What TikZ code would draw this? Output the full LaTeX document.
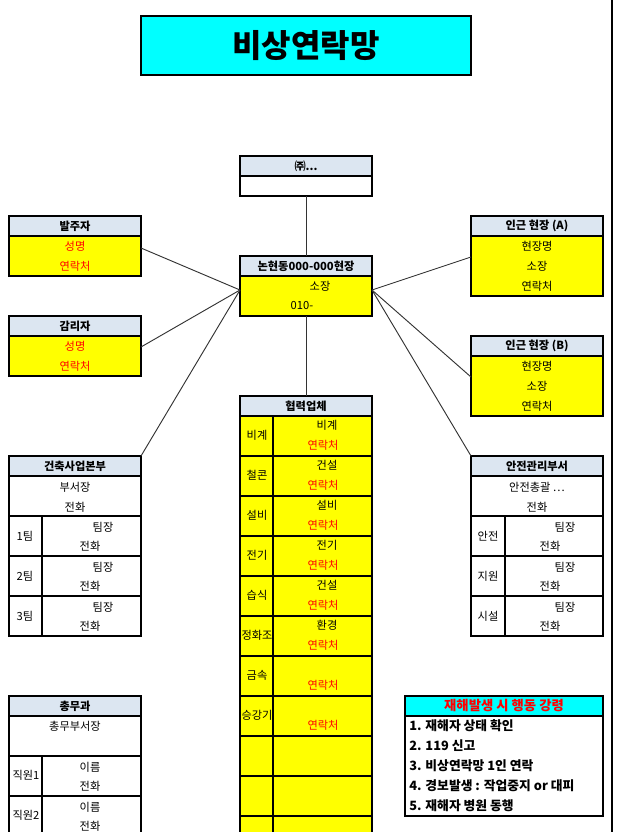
\documentclass[tikz,border=0pt]{standalone}
\usepackage{fontspec}
\setmainfont{Noto Sans CJK KR}
\definecolor{hdr}{HTML}{DCE6F1}
\definecolor{ylw}{HTML}{FFFF00}
\definecolor{cyn}{HTML}{00FFFF}
\definecolor{rd}{HTML}{FF0000}
\begin{document}
\begin{tikzpicture}[x=0.75pt,y=-0.75pt,
  frame/.style={draw=black,line width=1.5pt},
  gridline/.style={draw=black,line width=1.5pt},
  conn/.style={draw=black!80,line width=0.7pt},
  t/.style={inner sep=0pt,font=\fontsize{8.4}{9}\selectfont},
  tb/.style={inner sep=0pt,font=\fontsize{8.4}{9}\selectfont\bfseries},
  rt/.style={t,text=rd},
  it/.style={inner sep=0pt,anchor=west,font=\fontsize{9.6}{10}\selectfont\bfseries}]
\useasboundingbox (0,0) rectangle (624,832);
\clip (0,0) rectangle (624,832);

% title
\draw[frame,fill=cyn] (141,16) rectangle (471,75);
\node[inner sep=0pt,font=\fontsize{24}{26}\selectfont\bfseries] (title) at (306,46) {비상연락망};

% right border line
\draw[line width=1.5pt] (612,0) -- (612,832);

% top company box
\fill[hdr] (240,156) rectangle (372,176);
\draw[gridline] (240,176) -- (372,176);
\draw[frame] (240,156) rectangle (372,196);
\node[tb] (comp) at (306,166) {㈜...};
\coordinate (compB) at (306,196);

% main site box
\fill[hdr] (240,256) rectangle (372,276);
\fill[ylw] (240,276) rectangle (372,316);
\draw[gridline] (240,276) -- (372,276);
\draw[frame] (240,256) rectangle (372,316);
\node[tb] (site) at (306,266) {논현동000-000현장};
\node[t] (siteboss) at (320,286) {소장};
\node[t] (sitetel) at (302,306) {010-};
\coordinate (mainT) at (306,256);
\coordinate (mainB) at (306,316);
\coordinate (mainL) at (240,290);
\coordinate (mainR) at (372,290);

% 발주자
\fill[hdr] (9,216) rectangle (141,236);
\fill[ylw] (9,236) rectangle (141,276);
\draw[gridline] (9,236) -- (141,236);
\draw[frame] (9,216) rectangle (141,276);
\node[tb] (owner) at (75,226) {발주자};
\node[rt] (ownername) at (75,246) {성명};
\node[rt] (ownertel) at (75,266) {연락처};
\coordinate (ownerE) at (141,248);

% 감리자
\fill[hdr] (9,316) rectangle (141,336);
\fill[ylw] (9,336) rectangle (141,376);
\draw[gridline] (9,336) -- (141,336);
\draw[frame] (9,316) rectangle (141,376);
\node[tb] (super) at (75,326) {감리자};
\node[rt] (supername) at (75,346) {성명};
\node[rt] (supertel) at (75,366) {연락처};
\coordinate (superE) at (141,347);

% 인근 현장 A
\fill[hdr] (471,216) rectangle (603,236);
\fill[ylw] (471,236) rectangle (603,296);
\draw[gridline] (471,236) -- (603,236);
\draw[frame] (471,216) rectangle (603,296);
\node[tb] (nearA) at (537,226) {인근 현장 (A)};
\node[t] (nearAn) at (537,246) {현장명};
\node[t] (nearAb) at (537,266) {소장};
\node[t] (nearAt) at (537,286) {연락처};
\coordinate (nearAW) at (471,257);

% 인근 현장 B
\fill[hdr] (471,336) rectangle (603,356);
\fill[ylw] (471,356) rectangle (603,416);
\draw[gridline] (471,356) -- (603,356);
\draw[frame] (471,336) rectangle (603,416);
\node[tb] (nearB) at (537,346) {인근 현장 (B)};
\node[t] (nearBn) at (537,366) {현장명};
\node[t] (nearBb) at (537,386) {소장};
\node[t] (nearBt) at (537,406) {연락처};
\coordinate (nearBW) at (471,377);

% 건축사업본부
\fill[hdr] (9,456) rectangle (141,476);
\fill[white] (9,476) rectangle (141,636);
\draw[gridline] (9,476) -- (141,476);
\foreach \yy in {516,556,596} \draw[gridline] (9,\yy) -- (141,\yy);
\draw[gridline] (42,516) -- (42,636);
\draw[frame] (9,456) rectangle (141,636);
\node[tb] (arch) at (75,466) {건축사업본부};
\node[t] (archhead) at (75,487) {부서장};
\node[t] (archtel) at (75,507) {전화};
\foreach \n/\yy in {1/516,2/556,3/596} {
  \node[t] (archteam\n) at (25,\yy+20) {\n{}팀};
  \node[t] (archlead\n) at (103,\yy+11) {팀장};
  \node[t] (archphone\n) at (90,\yy+30) {전화};
}
\coordinate (archNE) at (141,456);

% 안전관리부서
\fill[hdr] (471,456) rectangle (603,476);
\fill[white] (471,476) rectangle (603,636);
\draw[gridline] (471,476) -- (603,476);
\foreach \yy in {516,556,596} \draw[gridline] (471,\yy) -- (603,\yy);
\draw[gridline] (505,516) -- (505,636);
\draw[frame] (471,456) rectangle (603,636);
\node[tb] (safe) at (537,466) {안전관리부서};
\node[t] (safehead) at (537,487) {안전총괄 …};
\node[t] (safetel) at (537,507) {전화};
\foreach \n/\lab/\yy in {1/안전/516,2/지원/556,3/시설/596} {
  \node[t] (safeteam\n) at (488,\yy+20) {\lab};
  \node[t] (safelead\n) at (565,\yy+11) {팀장};
  \node[t] (safephone\n) at (550,\yy+30) {전화};
}
\coordinate (safeNW) at (471,456);

% 총무과
\fill[hdr] (9,696) rectangle (141,716);
\fill[white] (9,716) rectangle (141,840);
\draw[gridline] (9,716) -- (141,716);
\foreach \yy in {756,796,836} \draw[gridline] (9,\yy) -- (141,\yy);
\draw[gridline] (42,756) -- (42,840);
\draw[frame] (9,696) rectangle (141,840);
\node[tb] (ga) at (75,706) {총무과};
\node[t] (gahead) at (75,726) {총무부서장};
\foreach \n/\yy in {1/756,2/796} {
  \node[t] (gastaff\n) at (26,\yy+19) {직원\n};
  \node[t] (ganame\n) at (90,\yy+11) {이름};
  \node[t] (gaphone\n) at (90,\yy+30) {전화};
}

% 협력업체
\fill[hdr] (240,396) rectangle (372,416);
\fill[ylw] (240,416) rectangle (372,860);
\foreach \n/\lab/\trade/\yy in {1/비계/비계/416,2/철콘/건설/456,3/설비/설비/496,4/전기/전기/536,5/습식/건설/576,6/정화조/환경/616,7/금속//656,8/승강기//696} {
  \node[t] (coopL\n) at (257,\yy+19) {\lab};
  \node[t] (coopT\n) at (327,\yy+9) {\trade};
  \node[rt] (coopC\n) at (323,\yy+29) {연락처};
}
\draw[gridline] (240,416) -- (372,416);
\foreach \yy in {456,496,...,816} \draw[gridline] (240,\yy) -- (372,\yy);
\draw[gridline] (273,416) -- (273,860);
\draw[frame] (240,396) rectangle (372,860);
\node[tb] (coop) at (306,406) {협력업체};
\coordinate (coopTop) at (306,396);

% 재해발생 시 행동 강령
\fill[cyn] (405,696) rectangle (603,716);
\fill[white] (405,716) rectangle (603,816);
\draw[gridline] (405,716) -- (603,716);
\draw[frame] (405,696) rectangle (603,816);
\node[inner sep=0pt,text=rd,font=\fontsize{10}{11}\selectfont\bfseries] (rule) at (504,706) {재해발생 시 행동 강령};
\node[it] (rule1) at (409,726) {1. 재해자 상태 확인};
\node[it] (rule2) at (409,746) {2. 119 신고};
\node[it] (rule3) at (409,766) {3. 비상연락망 1인 연락};
\node[it] (rule4) at (409,786) {4. 경보발생 : 작업중지 or 대피};
\node[it] (rule5) at (409,806) {5. 재해자 병원 동행};

% connectors
\draw[conn] (compB) -- (mainT);
\draw[conn] (mainB) -- (coopTop);
\draw[conn] (ownerE) -- (mainL);
\draw[conn] (superE) -- (mainL);
\draw[conn] (archNE) -- (mainL);
\draw[conn] (nearAW) -- (mainR);
\draw[conn] (nearBW) -- (mainR);
\draw[conn] (safeNW) -- (mainR);
\end{tikzpicture}
\end{document}
